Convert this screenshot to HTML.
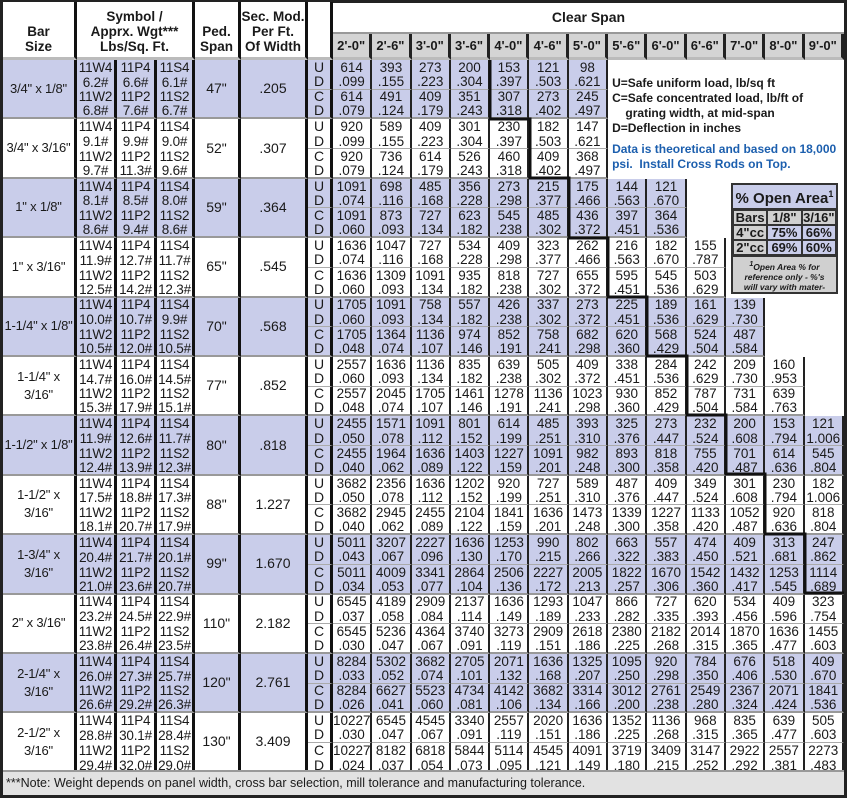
<!DOCTYPE html>
<html><head><meta charset="utf-8">
<style>
body{margin:0;width:850px;height:799px;background:#fff;position:relative;overflow:hidden;font-family:"Liberation Sans",Arial,sans-serif;color:#1a1a1a}
#frame{position:absolute;left:0;top:0;width:841px;height:792px;border:3px solid #222}
table.m{position:absolute;left:3px;top:2px;border-collapse:separate;border-spacing:0;table-layout:fixed;width:841px}
td{padding:0;text-align:center;font-size:13.5px;line-height:13px;white-space:nowrap;overflow:hidden;box-sizing:border-box;border-right:2px solid #222}
tr.r{height:14.8px}
tr.b td{background:#c9cdea}
td.e{background:#fff !important;border-right:none}
td.s{font-size:13.5px;line-height:13px;border-right:3px solid #111;letter-spacing:-0.2px}
td.bs{font-size:13px;line-height:18px;border-right:3px solid #111;border-bottom:2px solid #999;white-space:nowrap;letter-spacing:-0.2px}
td.pk,td.sm{font-size:14px;border-right:3px solid #111;border-bottom:2px solid #999}
td.l{font-size:14px;border-right:3px solid #111}
tr.p td.d,tr.p td.l{border-bottom:1px solid #aaa}
tr.g td.d,tr.g td.l,tr.g td.s{border-bottom:2px solid #999}
th{padding:0;font-weight:bold;font-size:13.5px;line-height:15px;box-sizing:border-box;white-space:nowrap;overflow:hidden}
tr.h1{height:32px}
tr.h2{height:26px}
th.h{border-right:3px solid #111;border-bottom:3px solid #bbb;vertical-align:bottom;padding-bottom:3px;background:#fff}
th.cs{height:32px;border-bottom:2px solid #999;font-size:14px}
th.sp{height:26px;background:#d4d4d4;border-right:3px solid #222;font-size:13px;border-bottom:3px solid #bbb}
td.leg{background:#fff !important;text-align:left;vertical-align:top;padding:16px 0 0 4px;font-weight:bold;font-size:12px;line-height:15px;border-right:none;white-space:nowrap}
.blue{color:#1c5fae}
td.oa{background:#fff !important;border-right:none;vertical-align:top}
.box{margin:4px 0 0 5px;width:107px;height:111px;border:2px solid #333;background:#d0d0d0;box-sizing:border-box;font-weight:bold;overflow:hidden}
.box .t{font-size:15px;line-height:19px;text-align:center;background:#c9cdea;border-bottom:2px solid #333}
.box table{width:103px;border-spacing:0;table-layout:fixed}
.box td{font-size:13px;line-height:13px;border:1px solid #333;background:#fff}
.box td.g{background:#d0d0d0}
.box .fn{font-size:8.5px;line-height:10px;font-style:italic;text-align:center;padding-top:2px;border-top:2px solid #333;white-space:nowrap}
#foot{position:absolute;left:3px;top:770px;width:841px;height:25px;background:#e2e2e2;border-top:2px solid #999;font-size:12.5px;line-height:22px;padding-left:3px;box-sizing:border-box}
svg{position:absolute;left:0;top:0}
</style></head><body>
<div id="frame"></div>
<table class="m">
<colgroup><col style="width:74px"><col style="width:40px"><col style="width:40px"><col style="width:38px"><col style="width:46px"><col style="width:67px"><col style="width:25px">
<col style="width:39.3px"><col style="width:39.3px"><col style="width:39.3px"><col style="width:39.3px"><col style="width:39.3px"><col style="width:39.3px"><col style="width:39.3px"><col style="width:39.3px"><col style="width:39.3px"><col style="width:39.3px"><col style="width:39.3px"><col style="width:39.3px"><col style="width:39.3px"></colgroup>
<tr class="h1"><th class="h" rowspan="2">Bar<br>Size</th><th class="h" colspan="3" rowspan="2">Symbol /<br>Apprx. Wgt***<br>Lbs/Sq. Ft.</th><th class="h" rowspan="2">Ped.<br>Span</th><th class="h" rowspan="2">Sec. Mod.<br>Per Ft.<br>Of Width</th><th class="h" rowspan="2"></th><th class="cs" colspan="13">Clear Span</th></tr>
<tr class="h2"><th class="sp">2'-0"</th><th class="sp">2'-6"</th><th class="sp">3'-0"</th><th class="sp">3'-6"</th><th class="sp">4'-0"</th><th class="sp">4'-6"</th><th class="sp">5'-0"</th><th class="sp">5'-6"</th><th class="sp">6'-0"</th><th class="sp">6'-6"</th><th class="sp">7'-0"</th><th class="sp">8'-0"</th><th class="sp">9'-0"</th></tr>

<!-- G0 -->
<tr class="r b"><td class="bs" rowspan="4">3/4" x 1/8"</td><td class="s">11W4</td><td class="s">11P4</td><td class="s">11S4</td><td class="pk" rowspan="4">47"</td><td class="sm" rowspan="4">.205</td><td class="l">U</td><td class="d">614</td><td class="d">393</td><td class="d">273</td><td class="d">200</td><td class="d">153</td><td class="d">121</td><td class="d">98</td>
<td class="leg" rowspan="8" colspan="6">U=Safe uniform load, lb/sq ft<br>C=Safe concentrated load, lb/ft of<br>&nbsp;&nbsp;&nbsp;&nbsp;grating width, at mid-span<br>D=Deflection in inches<br><div style="height:6px"></div><span class="blue">Data is theoretical and based on 18,000<br>psi.&nbsp; Install Cross Rods on Top.</span></td></tr>
<tr class="r b p"><td class="s">6.2#</td><td class="s">6.6#</td><td class="s">6.1#</td><td class="l">D</td><td class="d">.099</td><td class="d">.155</td><td class="d">.223</td><td class="d">.304</td><td class="d">.397</td><td class="d">.503</td><td class="d">.621</td></tr>
<tr class="r b"><td class="s">11W2</td><td class="s">11P2</td><td class="s">11S2</td><td class="l">C</td><td class="d">614</td><td class="d">491</td><td class="d">409</td><td class="d">351</td><td class="d">307</td><td class="d">273</td><td class="d">245</td></tr>
<tr class="r b g"><td class="s">6.8#</td><td class="s">7.6#</td><td class="s">6.7#</td><td class="l">D</td><td class="d">.079</td><td class="d">.124</td><td class="d">.179</td><td class="d">.243</td><td class="d">.318</td><td class="d">.402</td><td class="d">.497</td></tr>
<!-- G1 -->
<tr class="r"><td class="bs" rowspan="4">3/4" x 3/16"</td><td class="s">11W4</td><td class="s">11P4</td><td class="s">11S4</td><td class="pk" rowspan="4">52"</td><td class="sm" rowspan="4">.307</td><td class="l">U</td><td class="d">920</td><td class="d">589</td><td class="d">409</td><td class="d">301</td><td class="d">230</td><td class="d">182</td><td class="d">147</td></tr>
<tr class="r p"><td class="s">9.1#</td><td class="s">9.9#</td><td class="s">9.0#</td><td class="l">D</td><td class="d">.099</td><td class="d">.155</td><td class="d">.223</td><td class="d">.304</td><td class="d">.397</td><td class="d">.503</td><td class="d">.621</td></tr>
<tr class="r"><td class="s">11W2</td><td class="s">11P2</td><td class="s">11S2</td><td class="l">C</td><td class="d">920</td><td class="d">736</td><td class="d">614</td><td class="d">526</td><td class="d">460</td><td class="d">409</td><td class="d">368</td></tr>
<tr class="r g"><td class="s">9.7#</td><td class="s">11.3#</td><td class="s">9.6#</td><td class="l">D</td><td class="d">.079</td><td class="d">.124</td><td class="d">.179</td><td class="d">.243</td><td class="d">.318</td><td class="d">.402</td><td class="d">.497</td></tr>
<!-- G2 -->
<tr class="r b"><td class="bs" rowspan="4">1" x 1/8"</td><td class="s">11W4</td><td class="s">11P4</td><td class="s">11S4</td><td class="pk" rowspan="4">59"</td><td class="sm" rowspan="4">.364</td><td class="l">U</td><td class="d">1091</td><td class="d">698</td><td class="d">485</td><td class="d">356</td><td class="d">273</td><td class="d">215</td><td class="d">175</td><td class="d">144</td><td class="d">121</td><td class="e" rowspan="4"></td>
<td class="oa" rowspan="8" colspan="3"><div class="box"><div class="t">% Open Area<sup style="font-size:9px">1</sup></div><table><tr><td class="g">Bars</td><td class="g">1/8"</td><td class="g">3/16"</td></tr><tr><td class="g">4"cc</td><td>75%</td><td>66%</td></tr><tr><td class="g">2"cc</td><td>69%</td><td>60%</td></tr></table><div class="fn"><sup>1</sup>Open Area % for<br>reference only - %'s<br>will vary with mater-<br>ial &amp; mfg. process.</div></div></td></tr>
<tr class="r b p"><td class="s">8.1#</td><td class="s">8.5#</td><td class="s">8.0#</td><td class="l">D</td><td class="d">.074</td><td class="d">.116</td><td class="d">.168</td><td class="d">.228</td><td class="d">.298</td><td class="d">.377</td><td class="d">.466</td><td class="d">.563</td><td class="d">.670</td></tr>
<tr class="r b"><td class="s">11W2</td><td class="s">11P2</td><td class="s">11S2</td><td class="l">C</td><td class="d">1091</td><td class="d">873</td><td class="d">727</td><td class="d">623</td><td class="d">545</td><td class="d">485</td><td class="d">436</td><td class="d">397</td><td class="d">364</td></tr>
<tr class="r b g"><td class="s">8.6#</td><td class="s">9.4#</td><td class="s">8.6#</td><td class="l">D</td><td class="d">.060</td><td class="d">.093</td><td class="d">.134</td><td class="d">.182</td><td class="d">.238</td><td class="d">.302</td><td class="d">.372</td><td class="d">.451</td><td class="d">.536</td></tr>
<!-- G3 -->
<tr class="r"><td class="bs" rowspan="4">1" x 3/16"</td><td class="s">11W4</td><td class="s">11P4</td><td class="s">11S4</td><td class="pk" rowspan="4">65"</td><td class="sm" rowspan="4">.545</td><td class="l">U</td><td class="d">1636</td><td class="d">1047</td><td class="d">727</td><td class="d">534</td><td class="d">409</td><td class="d">323</td><td class="d">262</td><td class="d">216</td><td class="d">182</td><td class="d">155</td></tr>
<tr class="r p"><td class="s">11.9#</td><td class="s">12.7#</td><td class="s">11.7#</td><td class="l">D</td><td class="d">.074</td><td class="d">.116</td><td class="d">.168</td><td class="d">.228</td><td class="d">.298</td><td class="d">.377</td><td class="d">.466</td><td class="d">.563</td><td class="d">.670</td><td class="d">.787</td></tr>
<tr class="r"><td class="s">11W2</td><td class="s">11P2</td><td class="s">11S2</td><td class="l">C</td><td class="d">1636</td><td class="d">1309</td><td class="d">1091</td><td class="d">935</td><td class="d">818</td><td class="d">727</td><td class="d">655</td><td class="d">595</td><td class="d">545</td><td class="d">503</td></tr>
<tr class="r g"><td class="s">12.5#</td><td class="s">14.2#</td><td class="s">12.3#</td><td class="l">D</td><td class="d">.060</td><td class="d">.093</td><td class="d">.134</td><td class="d">.182</td><td class="d">.238</td><td class="d">.302</td><td class="d">.372</td><td class="d">.451</td><td class="d">.536</td><td class="d">.629</td></tr>
<!-- G4 -->
<tr class="r b"><td class="bs" rowspan="4">1-1/4" x 1/8"</td><td class="s">11W4</td><td class="s">11P4</td><td class="s">11S4</td><td class="pk" rowspan="4">70"</td><td class="sm" rowspan="4">.568</td><td class="l">U</td><td class="d">1705</td><td class="d">1091</td><td class="d">758</td><td class="d">557</td><td class="d">426</td><td class="d">337</td><td class="d">273</td><td class="d">225</td><td class="d">189</td><td class="d">161</td><td class="d">139</td><td class="e" rowspan="4"></td><td class="e" rowspan="8"></td></tr>
<tr class="r b p"><td class="s">10.0#</td><td class="s">10.7#</td><td class="s">9.9#</td><td class="l">D</td><td class="d">.060</td><td class="d">.093</td><td class="d">.134</td><td class="d">.182</td><td class="d">.238</td><td class="d">.302</td><td class="d">.372</td><td class="d">.451</td><td class="d">.536</td><td class="d">.629</td><td class="d">.730</td></tr>
<tr class="r b"><td class="s">11W2</td><td class="s">11P2</td><td class="s">11S2</td><td class="l">C</td><td class="d">1705</td><td class="d">1364</td><td class="d">1136</td><td class="d">974</td><td class="d">852</td><td class="d">758</td><td class="d">682</td><td class="d">620</td><td class="d">568</td><td class="d">524</td><td class="d">487</td></tr>
<tr class="r b g"><td class="s">10.5#</td><td class="s">12.0#</td><td class="s">10.5#</td><td class="l">D</td><td class="d">.048</td><td class="d">.074</td><td class="d">.107</td><td class="d">.146</td><td class="d">.191</td><td class="d">.241</td><td class="d">.298</td><td class="d">.360</td><td class="d">.429</td><td class="d">.504</td><td class="d">.584</td></tr>
<!-- G5 -->
<tr class="r"><td class="bs" rowspan="4">1-1/4" x<br>3/16"</td><td class="s">11W4</td><td class="s">11P4</td><td class="s">11S4</td><td class="pk" rowspan="4">77"</td><td class="sm" rowspan="4">.852</td><td class="l">U</td><td class="d">2557</td><td class="d">1636</td><td class="d">1136</td><td class="d">835</td><td class="d">639</td><td class="d">505</td><td class="d">409</td><td class="d">338</td><td class="d">284</td><td class="d">242</td><td class="d">209</td><td class="d">160</td></tr>
<tr class="r p"><td class="s">14.7#</td><td class="s">16.0#</td><td class="s">14.5#</td><td class="l">D</td><td class="d">.060</td><td class="d">.093</td><td class="d">.134</td><td class="d">.182</td><td class="d">.238</td><td class="d">.302</td><td class="d">.372</td><td class="d">.451</td><td class="d">.536</td><td class="d">.629</td><td class="d">.730</td><td class="d">.953</td></tr>
<tr class="r"><td class="s">11W2</td><td class="s">11P2</td><td class="s">11S2</td><td class="l">C</td><td class="d">2557</td><td class="d">2045</td><td class="d">1705</td><td class="d">1461</td><td class="d">1278</td><td class="d">1136</td><td class="d">1023</td><td class="d">930</td><td class="d">852</td><td class="d">787</td><td class="d">731</td><td class="d">639</td></tr>
<tr class="r g"><td class="s">15.3#</td><td class="s">17.9#</td><td class="s">15.1#</td><td class="l">D</td><td class="d">.048</td><td class="d">.074</td><td class="d">.107</td><td class="d">.146</td><td class="d">.191</td><td class="d">.241</td><td class="d">.298</td><td class="d">.360</td><td class="d">.429</td><td class="d">.504</td><td class="d">.584</td><td class="d">.763</td></tr>
<!-- G6 -->
<tr class="r b"><td class="bs" rowspan="4">1-1/2" x 1/8"</td><td class="s">11W4</td><td class="s">11P4</td><td class="s">11S4</td><td class="pk" rowspan="4">80"</td><td class="sm" rowspan="4">.818</td><td class="l">U</td><td class="d">2455</td><td class="d">1571</td><td class="d">1091</td><td class="d">801</td><td class="d">614</td><td class="d">485</td><td class="d">393</td><td class="d">325</td><td class="d">273</td><td class="d">232</td><td class="d">200</td><td class="d">153</td><td class="d">121</td></tr>
<tr class="r b p"><td class="s">11.9#</td><td class="s">12.6#</td><td class="s">11.7#</td><td class="l">D</td><td class="d">.050</td><td class="d">.078</td><td class="d">.112</td><td class="d">.152</td><td class="d">.199</td><td class="d">.251</td><td class="d">.310</td><td class="d">.376</td><td class="d">.447</td><td class="d">.524</td><td class="d">.608</td><td class="d">.794</td><td class="d">1.006</td></tr>
<tr class="r b"><td class="s">11W2</td><td class="s">11P2</td><td class="s">11S2</td><td class="l">C</td><td class="d">2455</td><td class="d">1964</td><td class="d">1636</td><td class="d">1403</td><td class="d">1227</td><td class="d">1091</td><td class="d">982</td><td class="d">893</td><td class="d">818</td><td class="d">755</td><td class="d">701</td><td class="d">614</td><td class="d">545</td></tr>
<tr class="r b g"><td class="s">12.4#</td><td class="s">13.9#</td><td class="s">12.3#</td><td class="l">D</td><td class="d">.040</td><td class="d">.062</td><td class="d">.089</td><td class="d">.122</td><td class="d">.159</td><td class="d">.201</td><td class="d">.248</td><td class="d">.300</td><td class="d">.358</td><td class="d">.420</td><td class="d">.487</td><td class="d">.636</td><td class="d">.804</td></tr>
<!-- G7 -->
<tr class="r"><td class="bs" rowspan="4">1-1/2" x<br>3/16"</td><td class="s">11W4</td><td class="s">11P4</td><td class="s">11S4</td><td class="pk" rowspan="4">88"</td><td class="sm" rowspan="4">1.227</td><td class="l">U</td><td class="d">3682</td><td class="d">2356</td><td class="d">1636</td><td class="d">1202</td><td class="d">920</td><td class="d">727</td><td class="d">589</td><td class="d">487</td><td class="d">409</td><td class="d">349</td><td class="d">301</td><td class="d">230</td><td class="d">182</td></tr>
<tr class="r p"><td class="s">17.5#</td><td class="s">18.8#</td><td class="s">17.3#</td><td class="l">D</td><td class="d">.050</td><td class="d">.078</td><td class="d">.112</td><td class="d">.152</td><td class="d">.199</td><td class="d">.251</td><td class="d">.310</td><td class="d">.376</td><td class="d">.447</td><td class="d">.524</td><td class="d">.608</td><td class="d">.794</td><td class="d">1.006</td></tr>
<tr class="r"><td class="s">11W2</td><td class="s">11P2</td><td class="s">11S2</td><td class="l">C</td><td class="d">3682</td><td class="d">2945</td><td class="d">2455</td><td class="d">2104</td><td class="d">1841</td><td class="d">1636</td><td class="d">1473</td><td class="d">1339</td><td class="d">1227</td><td class="d">1133</td><td class="d">1052</td><td class="d">920</td><td class="d">818</td></tr>
<tr class="r g"><td class="s">18.1#</td><td class="s">20.7#</td><td class="s">17.9#</td><td class="l">D</td><td class="d">.040</td><td class="d">.062</td><td class="d">.089</td><td class="d">.122</td><td class="d">.159</td><td class="d">.201</td><td class="d">.248</td><td class="d">.300</td><td class="d">.358</td><td class="d">.420</td><td class="d">.487</td><td class="d">.636</td><td class="d">.804</td></tr>
<!-- G8 -->
<tr class="r b"><td class="bs" rowspan="4">1-3/4" x<br>3/16"</td><td class="s">11W4</td><td class="s">11P4</td><td class="s">11S4</td><td class="pk" rowspan="4">99"</td><td class="sm" rowspan="4">1.670</td><td class="l">U</td><td class="d">5011</td><td class="d">3207</td><td class="d">2227</td><td class="d">1636</td><td class="d">1253</td><td class="d">990</td><td class="d">802</td><td class="d">663</td><td class="d">557</td><td class="d">474</td><td class="d">409</td><td class="d">313</td><td class="d">247</td></tr>
<tr class="r b p"><td class="s">20.4#</td><td class="s">21.7#</td><td class="s">20.1#</td><td class="l">D</td><td class="d">.043</td><td class="d">.067</td><td class="d">.096</td><td class="d">.130</td><td class="d">.170</td><td class="d">.215</td><td class="d">.266</td><td class="d">.322</td><td class="d">.383</td><td class="d">.450</td><td class="d">.521</td><td class="d">.681</td><td class="d">.862</td></tr>
<tr class="r b"><td class="s">11W2</td><td class="s">11P2</td><td class="s">11S2</td><td class="l">C</td><td class="d">5011</td><td class="d">4009</td><td class="d">3341</td><td class="d">2864</td><td class="d">2506</td><td class="d">2227</td><td class="d">2005</td><td class="d">1822</td><td class="d">1670</td><td class="d">1542</td><td class="d">1432</td><td class="d">1253</td><td class="d">1114</td></tr>
<tr class="r b g"><td class="s">21.0#</td><td class="s">23.6#</td><td class="s">20.7#</td><td class="l">D</td><td class="d">.034</td><td class="d">.053</td><td class="d">.077</td><td class="d">.104</td><td class="d">.136</td><td class="d">.172</td><td class="d">.213</td><td class="d">.257</td><td class="d">.306</td><td class="d">.360</td><td class="d">.417</td><td class="d">.545</td><td class="d">.689</td></tr>
<!-- G9 -->
<tr class="r"><td class="bs" rowspan="4">2" x 3/16"</td><td class="s">11W4</td><td class="s">11P4</td><td class="s">11S4</td><td class="pk" rowspan="4">110"</td><td class="sm" rowspan="4">2.182</td><td class="l">U</td><td class="d">6545</td><td class="d">4189</td><td class="d">2909</td><td class="d">2137</td><td class="d">1636</td><td class="d">1293</td><td class="d">1047</td><td class="d">866</td><td class="d">727</td><td class="d">620</td><td class="d">534</td><td class="d">409</td><td class="d">323</td></tr>
<tr class="r p"><td class="s">23.2#</td><td class="s">24.5#</td><td class="s">22.9#</td><td class="l">D</td><td class="d">.037</td><td class="d">.058</td><td class="d">.084</td><td class="d">.114</td><td class="d">.149</td><td class="d">.189</td><td class="d">.233</td><td class="d">.282</td><td class="d">.335</td><td class="d">.393</td><td class="d">.456</td><td class="d">.596</td><td class="d">.754</td></tr>
<tr class="r"><td class="s">11W2</td><td class="s">11P2</td><td class="s">11S2</td><td class="l">C</td><td class="d">6545</td><td class="d">5236</td><td class="d">4364</td><td class="d">3740</td><td class="d">3273</td><td class="d">2909</td><td class="d">2618</td><td class="d">2380</td><td class="d">2182</td><td class="d">2014</td><td class="d">1870</td><td class="d">1636</td><td class="d">1455</td></tr>
<tr class="r g"><td class="s">23.8#</td><td class="s">26.4#</td><td class="s">23.5#</td><td class="l">D</td><td class="d">.030</td><td class="d">.047</td><td class="d">.067</td><td class="d">.091</td><td class="d">.119</td><td class="d">.151</td><td class="d">.186</td><td class="d">.225</td><td class="d">.268</td><td class="d">.315</td><td class="d">.365</td><td class="d">.477</td><td class="d">.603</td></tr>
<!-- G10 -->
<tr class="r b"><td class="bs" rowspan="4">2-1/4" x<br>3/16"</td><td class="s">11W4</td><td class="s">11P4</td><td class="s">11S4</td><td class="pk" rowspan="4">120"</td><td class="sm" rowspan="4">2.761</td><td class="l">U</td><td class="d">8284</td><td class="d">5302</td><td class="d">3682</td><td class="d">2705</td><td class="d">2071</td><td class="d">1636</td><td class="d">1325</td><td class="d">1095</td><td class="d">920</td><td class="d">784</td><td class="d">676</td><td class="d">518</td><td class="d">409</td></tr>
<tr class="r b p"><td class="s">26.0#</td><td class="s">27.3#</td><td class="s">25.7#</td><td class="l">D</td><td class="d">.033</td><td class="d">.052</td><td class="d">.074</td><td class="d">.101</td><td class="d">.132</td><td class="d">.168</td><td class="d">.207</td><td class="d">.250</td><td class="d">.298</td><td class="d">.350</td><td class="d">.406</td><td class="d">.530</td><td class="d">.670</td></tr>
<tr class="r b"><td class="s">11W2</td><td class="s">11P2</td><td class="s">11S2</td><td class="l">C</td><td class="d">8284</td><td class="d">6627</td><td class="d">5523</td><td class="d">4734</td><td class="d">4142</td><td class="d">3682</td><td class="d">3314</td><td class="d">3012</td><td class="d">2761</td><td class="d">2549</td><td class="d">2367</td><td class="d">2071</td><td class="d">1841</td></tr>
<tr class="r b g"><td class="s">26.6#</td><td class="s">29.2#</td><td class="s">26.3#</td><td class="l">D</td><td class="d">.026</td><td class="d">.041</td><td class="d">.060</td><td class="d">.081</td><td class="d">.106</td><td class="d">.134</td><td class="d">.166</td><td class="d">.200</td><td class="d">.238</td><td class="d">.280</td><td class="d">.324</td><td class="d">.424</td><td class="d">.536</td></tr>
<!-- G11 -->
<tr class="r"><td class="bs" rowspan="4">2-1/2" x<br>3/16"</td><td class="s">11W4</td><td class="s">11P4</td><td class="s">11S4</td><td class="pk" rowspan="4">130"</td><td class="sm" rowspan="4">3.409</td><td class="l">U</td><td class="d">10227</td><td class="d">6545</td><td class="d">4545</td><td class="d">3340</td><td class="d">2557</td><td class="d">2020</td><td class="d">1636</td><td class="d">1352</td><td class="d">1136</td><td class="d">968</td><td class="d">835</td><td class="d">639</td><td class="d">505</td></tr>
<tr class="r p"><td class="s">28.8#</td><td class="s">30.1#</td><td class="s">28.4#</td><td class="l">D</td><td class="d">.030</td><td class="d">.047</td><td class="d">.067</td><td class="d">.091</td><td class="d">.119</td><td class="d">.151</td><td class="d">.186</td><td class="d">.225</td><td class="d">.268</td><td class="d">.315</td><td class="d">.365</td><td class="d">.477</td><td class="d">.603</td></tr>
<tr class="r"><td class="s">11W2</td><td class="s">11P2</td><td class="s">11S2</td><td class="l">C</td><td class="d">10227</td><td class="d">8182</td><td class="d">6818</td><td class="d">5844</td><td class="d">5114</td><td class="d">4545</td><td class="d">4091</td><td class="d">3719</td><td class="d">3409</td><td class="d">3147</td><td class="d">2922</td><td class="d">2557</td><td class="d">2273</td></tr>
<tr class="r"><td class="s">29.4#</td><td class="s">32.0#</td><td class="s">29.0#</td><td class="l">D</td><td class="d">.024</td><td class="d">.037</td><td class="d">.054</td><td class="d">.073</td><td class="d">.095</td><td class="d">.121</td><td class="d">.149</td><td class="d">.180</td><td class="d">.215</td><td class="d">.252</td><td class="d">.292</td><td class="d">.381</td><td class="d">.483</td></tr>
</table>
<div id="foot">***Note: Weight depends on panel width, cross bar selection, mill tolerance and manufacturing tolerance.</div>
<svg width="850" height="799" viewBox="0 0 850 799"><path d="M490,60 V119 H530 V178 H569 V238 H608 V297 H647 V356 H687 V415 H726 V474 H765 V534 H805 V593 H844" fill="none" stroke="#111" stroke-width="3"/></svg>
</body></html>
